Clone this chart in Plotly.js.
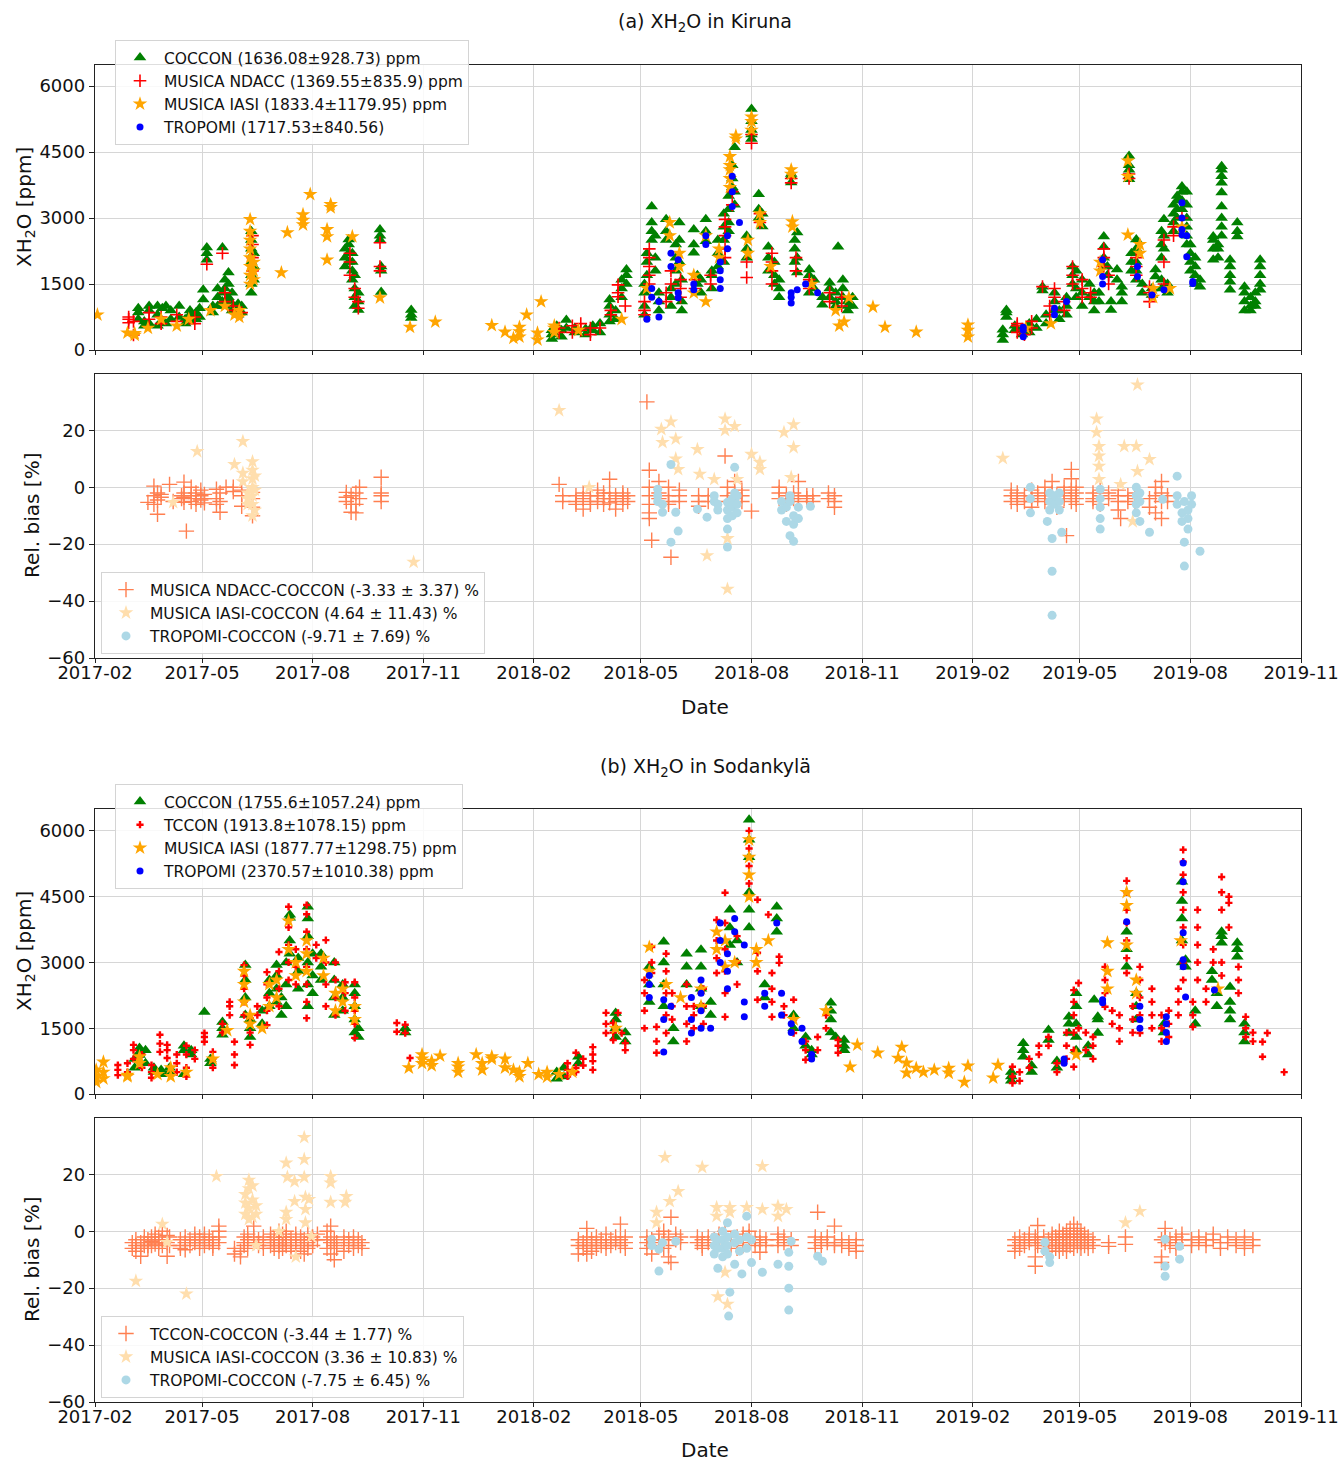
<!DOCTYPE html>
<html><head><meta charset="utf-8">
<script src="https://cdn.plot.ly/plotly-3.0.1.min.js"></script>
<style>body{margin:0;background:#fff}#chart{width:1341px;height:1461px}</style>
</head><body><div id="chart"></div>
<script>
// ---------- tick labels ----------
const xTickDates = ["2017-02-01","2017-05-01","2017-08-01","2017-11-01","2018-02-01","2018-05-01","2018-08-01","2018-11-01","2019-02-01","2019-05-01","2019-08-01","2019-11-01"];
const xTickLabels = ["2017-02","2017-05","2017-08","2017-11","2018-02","2018-05","2018-08","2018-11","2019-02","2019-05","2019-08","2019-11"];
const ppmTicks = [0,1500,3000,4500,6000];
const biasTicks = [-60,-40,-20,0,20];
const biasTickLabels = ["\u221260","\u221240","\u221220","0","20"];

// ---------- (a) Kiruna, XH2O [ppm]: rows = [date, values...] ----------
const kirCoccon = [
["2017-03-09",700,950,850],["2017-03-14",550,650],["2017-03-18",900,1000,600],["2017-03-25",550,800,1000],
["2017-03-29",650,950],["2017-04-01",600,1000],["2017-04-05",700,900],["2017-04-12",750,1000],["2017-04-17",600,700],
["2017-04-21",650,800,900],["2017-04-26",700,850],["2017-04-29",750,950],["2017-05-02",1150,1370],["2017-05-05",2050,2200,2330],
["2017-05-10",850,1000],["2017-05-14",1000,1200,1400],["2017-05-18",2330,1300,1100],["2017-05-20",1000,1400,1600],
["2017-05-23",1200,1500,1760,1100],["2017-05-26",900,1050,1300],["2017-05-31",800,950,1050],["2017-06-03",850,1000],
["2017-06-11",1300,1500,1700,2000,2300,2500,2700],["2017-06-13",1600,1900,2200],
["2017-08-28",1900,2100,2300],["2017-08-31",2000,2200,2400,2510],["2017-09-03",1600,1800,2000,2200],["2017-09-05",1000,1200,1400,1700],
["2017-09-08",910,1100,1300],["2017-09-26",2600,2740,2500],["2017-09-27",1320,1800,1900],["2017-10-22",730,800,910],
["2018-02-16",250,350,450],["2018-02-20",400,550],["2018-02-24",300,450],["2018-02-28",680,500],["2018-03-07",400,500],
["2018-03-16",350,480],["2018-03-22",450,550],["2018-03-28",400,600],["2018-04-05",800,1000,1150,650],["2018-04-10",700,900],
["2018-04-15",1200,1400,1600],["2018-04-19",1500,1830,1700],["2018-05-04",800,1000,1300,1500],["2018-05-06",1700,2000,2200],
["2018-05-10",3260,2500,2700,2900],["2018-05-13",1800,2100,2600],["2018-05-16",900,1100,1300],["2018-05-22",2970,2500,2700],
["2018-05-26",1000,1200,1400],["2018-05-30",1500,1800,2100,2400],["2018-06-02",2000,2500,2900],["2018-06-04",900,1100,1600],
["2018-06-14",2210,2400,2740],["2018-06-17",1500,1700],["2018-06-20",1300,1600],["2018-06-24",2470,2700,2970],
["2018-06-29",1400,1700,1800],["2018-07-04",1900,2200,2500],["2018-07-09",2000,2500,2800,3100],["2018-07-13",3200,3500,2900,2700],
["2018-07-16",3700,3900,4200],["2018-07-18",4610,3300,3600],["2018-07-28",2100,2300,2600],["2018-08-01",5480,5200,5000,4800,4900],
["2018-08-07",3200,3540,3000],["2018-08-10",2810,3100],["2018-08-15",1800,2100,2350],["2018-08-20",1500,1700,2000],
["2018-08-24",1200,1400,1600],["2018-09-03",3810,3950,4000],["2018-09-06",2000,2300,2500],["2018-09-08",1760,2100,2670],
["2018-09-18",1300,1500,1700,1830],["2018-09-22",1400,1600],["2018-09-29",1030,1200],["2018-10-05",1200,1400,1530],
["2018-10-10",1000,1100,1300],["2018-10-12",2350],["2018-10-16",1200,1400,1600],["2018-10-20",900,1000,1100],["2018-10-24",1000,1200],
["2019-02-26",230,350,460],["2019-03-01",750,850,910],["2019-03-08",450,550],["2019-03-14",350,500],["2019-03-20",400,600],
["2019-03-26",500,700],["2019-03-31",1440,1350],["2019-04-03",600,800],["2019-04-10",900,1100,1300],["2019-04-14",700,900],
["2019-04-20",800,1000,1200],["2019-04-25",1500,1700,1900],["2019-04-28",1200,1400,1800],["2019-05-03",1000,1300,1600],
["2019-05-09",1200,1500],["2019-05-13",900,1100,1300],["2019-05-17",1100,1300],["2019-05-21",1900,2100,2350,2580],
["2019-05-24",1700,1900],["2019-05-27",910,1100],["2019-06-01",1600,1830],["2019-06-05",1100,1300,1440],
["2019-06-11",3880,4100,4410,4200,3950],["2019-06-13",1800,2000,2200],["2019-06-17",1600,1800,2000,2300,2510],["2019-06-22",1300,1500],
["2019-06-30",1250,1400],["2019-07-03",1670,1830],["2019-07-08",1400,1600,2100,2400,2700],["2019-07-10",2970,2600,2300],
["2019-07-13",1300,1500],["2019-07-18",2700,2900,3100,3300],["2019-07-21",3000,3200,3400,3500],["2019-07-25",3200,3400,3600,3720],
["2019-07-29",2400,2600,2800,3000,3300,3600],["2019-08-01",1800,2000,2200,2400],["2019-08-05",1500,1700,1900,2100],["2019-08-09",1440,1600],
["2019-08-20",2050,2300,2500,2580],["2019-08-24",2100,2300,2400],["2019-08-27",3580,3800,3950,4100,4180,2600,2800,3000,3260],
["2019-09-03",1370,1550,1700,1900,2050],["2019-09-09",2580,2700,2900],["2019-09-15",900,1100,1300,1440],["2019-09-20",900,1000,1200],
["2019-09-24",1000,1100,1300],["2019-09-28",1370,1500,1700,1900,2050]
];
const kirNdacc = [
["2017-03-01",620,700,750],["2017-03-05",340,650],["2017-03-18",850,700],["2017-03-28",600,750],["2017-04-10",800,650],
["2017-04-25",600,750],["2017-05-05",1950],["2017-05-18",2200],["2017-05-20",1100,1300],["2017-05-27",900,1000],["2017-06-03",850],
["2017-06-12",1800,2100,2400,2600],["2017-09-01",1700,2000,2200],["2017-09-05",1200,1400],["2017-09-08",950,1100],["2017-09-26",2440,1800,1900],
["2018-02-22",400,500],["2018-03-05",400,550],["2018-03-12",450,600],["2018-03-20",350,500],["2018-03-28",500],["2018-04-06",800,900],
["2018-04-12",1210,1300,1480],["2018-04-18",1000],["2018-05-04",800,900,1100],["2018-05-08",1500,1700,1900,2100,2300],["2018-05-22",1100,1300],
["2018-05-26",1500,1800],["2018-06-03",1200,1400,1600],["2018-06-15",1400,1600],["2018-06-28",1500,1700],["2018-07-10",2100,2300,2600,2970,2800],
["2018-07-16",3300,3600],["2018-07-28",1650,2000],["2018-08-01",4700,4900],["2018-08-08",2900,3100],["2018-08-18",1500,1800,2000,2200],
["2018-09-03",3800,3900],["2018-09-07",1800,2100],["2018-09-18",1400,1600],["2018-10-05",1100,1300],["2018-10-15",1000,1200],
["2019-03-10",400,550,600],["2019-03-16",350,450],["2019-03-22",500,650],["2019-03-31",1440],["2019-04-06",800,1000],["2019-04-10",1200,1400],
["2019-04-18",900,1100],["2019-04-25",1500,1700,1900],["2019-05-03",1200,1400,1600],["2019-05-10",1200,1300],["2019-05-21",1900,2100,2300],
["2019-05-25",1500,1700],["2019-06-11",3900,4000],["2019-06-17",1700,1900,2100],["2019-06-28",1100,1300,1440],["2019-07-10",1500,2000,2500],
["2019-07-18",2600,2800],["2019-07-25",3000]
];
const kirIasi = [
["2017-02-03",800],["2017-02-28",390],["2017-03-06",340,380],["2017-03-17",500],["2017-03-28",700],["2017-04-10",550],["2017-04-20",700],
["2017-05-08",900],["2017-05-20",1000],["2017-05-28",800],["2017-06-01",750,900],["2017-06-10",1500,1700,1900,2100,2300,2500,2700,2970],
["2017-06-13",1600,1800,2000],["2017-07-06",1760],["2017-07-11",2670],["2017-07-24",2850,2950,3080],["2017-07-30",3540],
["2017-08-13",2580,2740,2050],["2017-08-16",3240,3310],["2017-09-03",2580],["2017-09-26",1190],["2017-10-21",520],["2017-11-11",640],
["2017-12-28",560],["2018-01-08",410],["2018-01-15",270],["2018-01-20",300,420,520],["2018-01-26",800],["2018-02-04",230,390],
["2018-02-07",1100],["2018-02-18",400,500,550],["2018-03-10",450],["2018-04-15",700],["2018-05-06",1400],["2018-05-25",2900,2600],
["2018-06-02",1900,2200],["2018-06-14",1300,1700],["2018-06-24",2600,1100],["2018-07-05",2300,2100],["2018-07-14",3900,4200,4400,4100,3700],
["2018-07-19",4800,4870],["2018-07-29",2200,2500],["2018-08-01",5000,5200,5300],["2018-08-08",2900,3100],["2018-08-17",1900],
["2018-09-03",4100,4000],["2018-09-04",2920,2800],["2018-09-20",1500],["2018-10-10",900],["2018-10-13",550],["2018-10-17",640],
["2018-10-21",1190],["2018-11-10",980],["2018-11-20",520],["2018-12-16",410],["2019-01-28",300,450,570],["2019-03-17",500],
["2019-04-07",600],["2019-05-18",1800,2000],["2019-06-10",2620,3950,4300],["2019-06-20",2200,2400],["2019-07-01",1200,1400],
["2019-07-15",1400],["2019-07-25",2800]
];
const kirTropomi = [
["2018-05-06",700],["2018-05-10",1200,1400],["2018-05-16",750,1100],["2018-05-26",2200,1900],["2018-06-01",1190,1300,2050],
["2018-06-14",1370,1500],["2018-06-24",2600,2400],["2018-07-06",1400,1600,1800,2000],["2018-07-12",2300,2600],["2018-07-16",3260,3600,3950],
["2018-07-22",2900],["2018-09-03",1070,1200,1300],["2018-09-08",1370],["2018-09-15",1500],["2018-09-25",1300],
["2019-03-15",300,450,520],["2019-04-10",800,950],["2019-04-20",1100],["2019-05-20",1500,1670,2050],["2019-06-18",1670,1900],
["2019-06-30",1250],["2019-07-10",1370],["2019-07-25",2620,2740,3000,3350],["2019-07-29",2120,2600],["2019-08-03",1560,1510]
];

// ---------- (a) Kiruna, relative bias [%] ----------
const kirBiasNdacc = [
["2017-03-17",-5.3],["2017-03-22",0.4,-3,-6],["2017-03-25",-2,-4.5,-9.5],["2017-03-28",-2.5,-3.5],["2017-04-04",1],["2017-04-07",-5],
["2017-04-14",-3,-4],["2017-04-16",1.8,-2,-3.5,-5.3],["2017-04-18",-15.4],["2017-04-22",0,-3,-5],["2017-04-26",-2,-4,-6],
["2017-04-30",-1,-3,-4.5],["2017-05-03",-2.5,-4,-5.5],["2017-05-13",-0.7,-4,-6],["2017-05-16",-2,-5,-8.8],["2017-05-21",0],
["2017-05-27",0,-1.5],["2017-06-03",-1,-3,-6.7],["2017-06-12",-1.8,-4,-7,-10],["2017-08-29",-1.8,-3.5,-5],["2017-09-02",-3,-6,-8.8],
["2017-09-06",-2,-6,-9],["2017-09-09",0,-4],["2017-09-27",3.5,-2,-3,-5],
["2018-02-22",1],["2018-02-25",-3,-5],["2018-03-08",-3,-5,-6],["2018-03-14",-2,-4,-7.7],["2018-03-20",-3,-5,-6],["2018-03-26",-1,-3,-5],
["2018-03-31",-2,-4,-6],["2018-04-05",2.8,-2,-4,-5.5],["2018-04-10",-3,-5,-7.7],["2018-04-16",-2,-4,-6,-3],["2018-04-20",-3,-5],
["2018-05-06",30],["2018-05-08",6,0,-3,-6,-9,-11],["2018-05-10",-18.6],["2018-05-16",2,-2,-4],["2018-05-24",0,-3,-5,-6],["2018-05-26",-24.6],
["2018-06-02",-1,-3,-5],["2018-06-18",-3,-5,-6.7],["2018-06-26",-3,-5],["2018-07-10",11],["2018-07-12",0,-3,-5],["2018-07-18",2,-2,-4],
["2018-07-24",-3,-5,-1],["2018-08-01",-8.4],["2018-08-24",0,-2,-4],["2018-08-30",-3,-5,-6],["2018-09-05",-2,-4],["2018-09-09",2,-3,-5],
["2018-09-16",-3,-4],["2018-09-21",-3,-5],["2018-10-04",-2,-4],["2018-10-09",-3,-5,-7],
["2019-03-05",-1,-3,-5],["2019-03-10",-2,-4,-6],["2019-03-16",-3,-5],["2019-03-22",-1,-3,-5,-7],["2019-03-27",-2,-4],["2019-04-02",0,-3,-5],
["2019-04-08",2,-2,-4,-6],["2019-04-12",-3,-5,-7],["2019-04-18",0,-2,-4],["2019-04-20",-17],["2019-04-24",6.3,3,-1,-3,-5],
["2019-04-28",0,-2,-4,-6],["2019-05-12",-2,-4,-5],["2019-05-18",-1,-3,-6],["2019-05-25",-2,-4],["2019-06-02",-1,-3,-5,-8],
["2019-06-04",-11],["2019-06-10",-3,-5],["2019-06-16",-2,-4,-6],["2019-06-28",-4,-7],["2019-07-03",0,-3,-9],["2019-07-08",2,-2,-5,-11],
["2019-07-13",-3,-5]
];
const kirBiasIasi = [
["2017-04-07",-5.3],["2017-04-27",12.6],["2017-05-28",8],["2017-06-04",16.1,5,2],["2017-06-08",-2,-4,-6],
["2017-06-12",9,6,3,0,-3,-6,-10],["2017-06-14",4,-1,-8],["2017-10-24",-26.3],["2018-02-22",27],["2018-03-19",0],
["2018-05-18",20.4],["2018-05-19",15.8],["2018-05-26",23],["2018-05-30",17,10],["2018-06-01",6.3],["2018-06-17",13.3],["2018-06-19",4.6],
["2018-06-25",-24],["2018-07-01",2.8],["2018-07-10",24,20],["2018-07-12",-18,-35.8],["2018-07-18",21.4],["2018-07-20",2.8],
["2018-08-01",11.6],["2018-08-08",8.8,6.3],["2018-08-28",19.3],["2018-09-03",3.5],["2018-09-05",22,14],
["2019-02-26",10.2],["2019-05-15",24,19.3],["2019-05-17",14.4,11,7.4,2.8],["2019-06-04",1],["2019-06-07",14.4],["2019-06-14",-12],
["2019-06-17",14.4],["2019-06-18",36,5.6],["2019-06-28",9.8]
];
const kirBiasTropomi = [
["2018-05-15",-0.7,-3,-5],["2018-05-19",-6,-8.8],["2018-05-26",8,-19.3],["2018-05-30",-8.8],["2018-06-01",-15.4],["2018-06-17",-7.7],
["2018-06-25",-10.5],["2018-07-01",-3,-5],["2018-07-04",-6,-8],["2018-07-12",-5.3,-8,-11,-14.7,-21],["2018-07-16",-4,-7,-10],
["2018-07-18",7,-2,-5],["2018-07-20",-3,-6,-9],["2018-08-26",-5,-8],["2018-08-30",-7,-12],["2018-09-02",-3,-5,-17],
["2018-09-05",-10,-13,-19],["2018-09-09",-7,-11],["2018-09-19",-6.7],
["2019-03-21",0,-4,-9],["2019-04-04",-12],["2019-04-06",-2,-5,-8],["2019-04-08",-18,-29.5,-45],["2019-04-10",-3,-6],
["2019-04-14",-2,-5,-8],["2019-04-16",-15.8],["2019-05-18",-0.7,-4,-7,-11,-14.7],["2019-06-17",0,-3,-6,-9],["2019-06-20",-2,-5,-12],
["2019-06-28",-15.8],["2019-07-09",-4.2],["2019-07-21",3.9,-3,-6],["2019-07-25",-9,-12],["2019-07-27",-19.3,-27.7,-5],
["2019-07-30",-8,-11,-14.7],["2019-08-02",-3,-6],["2019-08-09",-22.5]
];

// ---------- (b) Sodankylä, XH2O [ppm] ----------
const sodCoccon = [
["2017-03-06",600,800],["2017-03-10",890,1050,950],["2017-03-15",700,1000],["2017-03-22",500,600],["2017-03-28",450,550],
["2017-04-04",500,600],["2017-04-16",450,1100,1000],["2017-04-22",900,1000],["2017-05-03",1870],["2017-05-08",700,800],
["2017-05-18",1350,1500,1640],["2017-06-06",1800,2200,2600,2940],["2017-06-10",1300,1500,1700],["2017-06-20",1600,1900],
["2017-06-26",2000,2300,2600],["2017-07-02",2940,2700,2400,2100],["2017-07-06",1800,2200],["2017-07-10",2000,2500,3000],
["2017-07-13",4020,4090,3500,3200],["2017-07-20",2400,2800,3100],["2017-07-28",4270,4000,3600,3000,2500,2000],
["2017-08-01",2300,2700,3200],["2017-08-08",2600,2900,3200],["2017-08-19",1800,2200,2600,3000],["2017-08-26",1900,2200,2500],
["2017-09-05",1400,1700,2000,2300,2500],["2017-09-08",1300,1500],["2017-10-17",1400,1500],
["2018-02-20",350,500],["2018-02-26",400,600],["2018-03-10",700,850],["2018-04-10",1700,1850,1500,1300],["2018-04-18",1200,1400],
["2018-05-08",2100,2500,2900],["2018-05-20",3470,3000,2500,2000],["2018-05-28",1200,1500],["2018-06-08",2500,2900,3200],
["2018-06-20",3290,2900,2400,2000],["2018-06-28",1800,2100],["2018-07-14",3400,3800,4200],["2018-07-20",3000,3500],
["2018-07-30",6255,5800,5400,4600,4200,3800],["2018-08-12",2200,2500],["2018-08-22",4270,4000,3700],["2018-09-05",1500,1800],
["2018-09-15",1100,1300],["2018-09-20",900,1000],["2018-10-06",1400,1700,2080,1900],["2018-10-10",1300],["2018-10-17",1000,1100,1230],
["2019-03-05",300,400,500],["2019-03-15",850,1000,1160],["2019-03-22",500,650],["2019-04-05",1230,1460],["2019-04-12",600,750],
["2019-04-22",1390,1600,1760],["2019-04-28",1000,1300,1600,2000,2300],["2019-05-08",900,1100],["2019-05-13",2150],
["2019-05-16",1390,1700,1760],["2019-06-09",3700,3300,2900],["2019-06-17",1700,2000,2300],["2019-07-10",1400,1600],
["2019-07-25",4840,4400,4000,3500,3000],["2019-07-28",2900,3060],["2019-08-05",1600,1900],["2019-08-19",2600,2800],
["2019-08-23",2000,2300],["2019-08-27",3450,3600,3700],["2019-09-03",1700,1900,2100,2440],["2019-09-09",3130,3300,3450],
["2019-09-15",1200,1400,1600]
];
const sodTccon = [
["2017-02-20",430,550,660],["2017-02-28",500,700],["2017-03-05",800,1000,1120],["2017-03-12",600,900],["2017-03-20",370,500,660],
["2017-03-27",960,1150,1350],["2017-04-02",820,1000,1120],["2017-04-10",500,700,900],["2017-04-18",400,600,900,1100],["2017-04-25",800,1000],
["2017-05-03",1190,1300,1390],["2017-05-10",600,800,960],["2017-05-18",1400,1600],["2017-05-24",1800,2000,2100],["2017-05-28",660,900,1190],
["2017-06-05",1800,2100,2400,2700,2940],["2017-06-10",1120,1400,1730],["2017-06-16",1800,2000],["2017-06-24",1570,1900,2200,2500,2780],
["2017-07-04",2000,2400,2800,3240],["2017-07-12",4270,3800,3400,3000,2600],["2017-07-18",2500,2900,3300],
["2017-07-27",4310,4100,3700,3300,2900,2500,2100,1730],["2017-08-04",3100,3400],["2017-08-12",3510,3000,2500,2000],
["2017-08-20",1800,2200,2600,3000],["2017-08-28",1900,2300,2550],["2017-09-05",1280,1600,1900,2200,2550],["2017-10-10",1420,1620],
["2017-10-17",1390,1580],["2017-10-21",820],
["2018-03-01",400,550,700],["2018-03-08",500,600,940],["2018-03-14",650,800],["2018-03-22",550,750,1070,900],["2018-04-02",1390,1600,1850],
["2018-04-08",1230,1400,1620],["2018-04-12",1850],["2018-04-15",1390],["2018-04-18",1000,1160],["2018-05-04",1500,1900,2300,2600],
["2018-05-10",2760,3000,3350],["2018-05-14",940,1200,1530],["2018-05-22",1390,1800,2300,2800,3200],["2018-05-27",1700,2000,2300],
["2018-06-08",1200,1600,2000,2500],["2018-06-14",1500,1800,2000],["2018-06-22",1600,2000,2400],["2018-07-03",2760,3100,3500,3970],
["2018-07-10",1760,2300,2800,3300,3900,4590],["2018-07-20",2500,3000,3600],["2018-07-30",4800,5200,5600,6000],
["2018-08-06",4430,3220,2800,2150],["2018-08-15",4090],["2018-08-18",1760,2100,2400,2760],["2018-08-24",2990,3130],["2018-08-28",1800,2000],
["2018-09-05",1390,1700,2150],["2018-09-15",780,1000,1200],["2018-09-25",1000,1300],["2018-10-02",1500,1800],["2018-10-12",940,1100,1230],
["2019-03-06",250,400,620],["2019-03-12",300,500],["2019-03-20",600,800],["2019-03-28",900,1100],["2019-04-05",1100,1300],
["2019-04-12",500,700],["2019-04-20",800,1100,1400],["2019-04-26",620,1000,1400,1800,2100,2370],["2019-04-30",2530,1500],
["2019-05-06",1000,1400],["2019-05-12",800,1100,1300],["2019-05-22",1990,2300,2600,2900],["2019-05-28",1600,1900],
["2019-06-03",1200,1500,1800],["2019-06-09",4860,4600,4200,3900,3500,3100,2760],["2019-06-14",1400,1700,2000],
["2019-06-20",1390,1800,2200,2600,2900],["2019-06-30",1500,1800,2100,2400],["2019-07-08",1200,1500,1800],["2019-07-14",1300,1600,1900],
["2019-07-22",1800,2100,2400],["2019-07-26",5570,5300,5000,4600,4200,3800,3400,3000,2600],["2019-08-03",1530,1800,2100],
["2019-08-07",4200,3800,3400,3000,2600],["2019-08-14",2100,2400],["2019-08-20",3000,3300],["2019-08-27",4950,4600,4200,3000,2700],
["2019-09-02",4500,4360,3800],["2019-09-10",2900,2600,2300],["2019-09-16",1300,1500,1760],["2019-09-22",1200,1400],
["2019-09-30",1190,850],["2019-10-04",1390],["2019-10-18",500]
];
const sodIasi = [
["2017-02-02",270,400,550],["2017-02-08",730,500,350],["2017-02-28",400,430],["2017-03-10",700,850],["2017-03-25",450],
["2017-04-05",400,600],["2017-04-18",500],["2017-05-10",800],["2017-05-22",1450],["2017-06-05",2100,2500,2800],["2017-06-10",1600,1800],
["2017-06-20",1500],["2017-06-26",2000,2500],["2017-07-02",2200,2600],["2017-07-12",3950,3300],["2017-07-18",2700,3000],
["2017-07-27",3200,3500,2800],["2017-08-10",3100,2700],["2017-08-20",1900,2300],["2017-08-26",2400,2100],["2017-09-05",1700,2000],
["2017-10-20",600],["2017-10-31",900,700,800],["2017-11-08",650,750],["2017-11-15",870],["2017-11-30",500,620,700],["2017-12-15",900],
["2017-12-20",550,700],["2017-12-28",800,850],["2018-01-08",800,600],["2018-01-15",550],["2018-01-20",400,500],["2018-01-27",700],
["2018-02-05",450],["2018-02-12",390,500],["2018-02-22",450],["2018-03-05",500],["2018-04-10",1500],["2018-05-08",3350,2800],
["2018-05-22",2500],["2018-06-03",2200],["2018-06-20",2400,2000],["2018-07-03",3700,3300],["2018-07-10",2900,3500],["2018-07-18",3000],
["2018-07-30",5800,5400,5000,4500],["2018-08-05",3300,3000],["2018-08-15",3500],["2018-09-05",1700],["2018-10-02",1900],
["2018-10-22",620],["2018-10-28",1120],["2018-11-14",940],["2018-12-01",820],["2018-12-04",1070],["2018-12-08",480,710],
["2018-12-16",590],["2018-12-22",500],["2018-12-31",550],["2019-01-12",480,590],["2019-01-25",270],["2019-01-28",640],
["2019-02-18",370],["2019-02-22",660],["2019-04-28",900],["2019-05-24",3450,2800,2400],["2019-06-09",4600,4300,3400],
["2019-06-17",2600,2300],["2019-07-24",3500],["2019-08-24",2400]
];
const sodTropomi = [
["2018-05-08",2200,2500,2700],["2018-05-20",960,2150,1700],["2018-05-26",2000],["2018-06-12",1390,1700,2200],
["2018-06-20",1500,1900,2300,2600],["2018-06-28",1500],["2018-07-06",3000,3500,3900],["2018-07-12",2400,2800,3200],
["2018-07-18",4000,3700],["2018-07-26",1760,2100,3400],["2018-08-12",2000,2300],["2018-08-22",3900],["2018-08-26",1800,2300],
["2018-09-03",1400,1600],["2018-09-12",1200,1500],["2018-09-20",800,900],
["2019-04-18",700,800],["2019-05-20",2080,2150],["2019-06-09",3930],["2019-06-20",1500,1700,2000],["2019-07-12",1200,1400,1600,1760],
["2019-07-26",5270,4840,3680,3060,2900],["2019-07-28",2210],["2019-08-21",2370]
];

// ---------- (b) Sodankylä, relative bias [%] ----------
const sodBiasTccon = [
["2017-03-04",-4,-6],["2017-03-07",-3,-5,-7],["2017-03-11",-4,-6,-8.8],["2017-03-14",-2,-4,-5],["2017-03-17",-3,-5,-6],
["2017-03-20",-2,-3.5,-5],["2017-03-23",-1,-3,-4.5],["2017-03-26",-2,-4,-6],["2017-03-29",0,-3,-5],["2017-04-02",-1.5,-4,-8.8],
["2017-04-04",-2,-5],["2017-04-13",-3,-5,-6],["2017-04-17",-2,-4,-6.5],["2017-04-21",-3,-5],["2017-04-25",-1,-3,-4],
["2017-04-29",-2,-4,-6],["2017-05-03",-1,-3,-5],["2017-05-07",-2,-4],["2017-05-10",-3,-5,-6],["2017-05-15",1.8,0,-2,-4],
["2017-05-28",-6,-8],["2017-06-02",-7,-9],["2017-06-05",-2,-4,-5],["2017-06-08",-1,-3,-6],["2017-06-13",1.8,-2,-4],
["2017-06-17",-3,-5],["2017-06-21",-2,-4,-6],["2017-06-27",-1,-3,-5],["2017-06-30",-2,-4,-6],["2017-07-04",0,-3,-5,-7],
["2017-07-07",-1,-2,-4,-6],["2017-07-10",0,-2,-4,-5],["2017-07-14",-3,-5,-7],["2017-07-18",-1,-3,-6],["2017-07-22",-2,-4,-7],
["2017-07-25",-3,-5,-8],["2017-07-28",-1,-4,-6],["2017-08-01",-2,-3,-5],["2017-08-05",-1,-3],["2017-08-13",0,-3,-6],
["2017-08-16",1.8,-2,-4,-8],["2017-08-19",-3,-5,-10],["2017-08-21",-4,-6],["2017-08-27",-2,-4,-7],["2017-08-31",-3,-5],
["2017-09-04",-2,-4,-6],["2017-09-08",-3,-5],["2017-09-11",-4,-6],
["2018-03-10",-3,-5,-8],["2018-03-14",-4,-6],["2018-03-17",-2,1,-5,-8],["2018-03-21",-3,-5,-7],["2018-03-25",-2,-4,-6],
["2018-03-29",-3,-5],["2018-04-02",-1,-4,-6],["2018-04-06",-3,-5],["2018-04-10",-2,-4],["2018-04-14",2.5,-3,-5],
["2018-04-18",-2,-4,-6],["2018-05-06",-2,-4,-6],["2018-05-10",-3,-5,-8],["2018-05-16",-1,-4],["2018-05-20",0,-3,-6],
["2018-05-24",-2,-5,-9],["2018-05-26",4.9,-11],["2018-05-30",-1,-3],["2018-06-03",-2,-4],["2018-06-17",-2,-4],
["2018-06-21",-3,-5,-6],["2018-06-26",-2,-4],["2018-07-01",-3,-5],["2018-07-05",-1,-3],["2018-07-10",0,-2,-4],
["2018-07-15",-3,-5],["2018-07-20",-2,-4,-6],["2018-07-25",-1,-3,-5],["2018-07-30",0,-2,-4],["2018-08-04",-3,-5],
["2018-08-08",-2,-4,-7.4],["2018-08-13",-3,-5],["2018-08-23",-1,-3,-5],["2018-08-28",-2,-4],["2018-09-03",-3,-5],
["2018-09-23",-2,-4,-6],["2018-09-25",6.7],["2018-09-28",-3,-5],["2018-10-03",-2,-4],["2018-10-09",1.8,-4,-5],
["2018-10-15",-3,-5],["2018-10-21",-4,-6],["2018-10-27",-3,-5,-7],
["2019-03-08",-3,-5,-7],["2019-03-12",-2,-4,-6],["2019-03-16",-3,-5],["2019-03-20",-1,-3,-4],["2019-03-25",-2,-4,-12.3,-9],
["2019-03-27",2,-3,-5],["2019-04-01",-2,-4,-6],["2019-04-05",-3,-5,-7],["2019-04-08",-1,-3,-5],["2019-04-11",-2,-4,-6],
["2019-04-14",0,-3,-5,-7],["2019-04-17",-1,-2,-4,-6],["2019-04-20",0,-2,-4,-5,-7],["2019-04-23",1,-1,-3,-5],
["2019-04-26",2.5,0,-2,-4,-6],["2019-04-29",1,-1,-3,-5],["2019-05-02",0,-2,-4,-6],["2019-05-05",-1,-3,-5],["2019-05-08",-2,-4,-6],
["2019-05-12",-3,-5],["2019-05-25",-5.3,-4],["2019-06-08",-4.6,-2],["2019-07-08",-9,-11,-3],["2019-07-11",1,-2,-4],
["2019-07-15",-3,-5],["2019-07-20",-2,-4,-6],["2019-07-25",-1,-3],["2019-08-02",-3,-5],["2019-08-08",-2,-4],["2019-08-14",-3,-5],
["2019-08-20",-1,-3],["2019-08-26",-4,-6],["2019-09-01",-2,-4],["2019-09-08",-3,-5],["2019-09-15",-2,-4,-6],["2019-09-22",-3,-5]
];
const sodBiasIasi = [
["2017-03-07",-17.5],["2017-03-29",2.5],["2017-04-02",-3.9],["2017-04-18",-22],["2017-05-13",19.3],["2017-06-06",13,10,6],
["2017-06-09",18,15,8,4.2],["2017-06-12",16,11,5],["2017-06-15",9,6,-5],["2017-07-04",0],["2017-07-10",24,6.7,4.2],["2017-07-11",19],
["2017-07-17",17.5,10.5],["2017-07-18",-9],["2017-07-25",33,25.3,19],["2017-07-26",12,7.7,3],["2017-07-29",11.2],["2017-07-31",-1.8],
["2017-08-16",19.3,17,10.2],["2017-08-28",10.2],["2017-08-29",12.3],
["2018-05-14",6.7,3],["2018-05-21",26],["2018-05-25",10.5],["2018-06-01",14],["2018-06-21",22.5],["2018-07-03",8.4,5.3],
["2018-07-04",-23],["2018-07-10",-14.4],["2018-07-12",-25.6],["2018-07-14",8.4,6.7],["2018-07-28",8.4],["2018-08-10",22.8,7.7],
["2018-08-23",8.8,5.3],["2018-08-30",7.7],["2019-06-08",3],["2019-06-20",7]
];
const sodBiasTropomi = [
["2018-05-10",-2.8,-5],["2018-05-16",-14,-6.3],["2018-05-19",-4],["2018-05-30",-3.5],["2018-07-01",-2,-5,-8],
["2018-07-04",-13,-6,-3],["2018-07-08",0,-3,-6,-9],["2018-07-12",3,-2,-5,-8],["2018-07-13",-29.8],["2018-07-14",-21.4],
["2018-07-18",-11.6,-4,-1],["2018-07-22",-3,-7],["2018-07-24",-15],["2018-07-28",5.3,-2,-6],["2018-08-01",-11,-3],
["2018-08-10",-14.4],["2018-08-23",-11.6],["2018-09-01",-7.4,-12.3,-20,-27.7],["2018-09-03",-3.5],["2018-09-25",-8.8],
["2018-09-29",-10.5],["2019-04-02",-3.9,-7],["2019-04-06",-11,-9],["2019-07-11",-2.8,-12.3,-15.8],["2019-07-23",-5.3,-9.8]
];

// ---------- build ----------
function expand(rows){const x=[],y=[];rows.forEach(r=>{for(let i=1;i<r.length;i++){x.push(r[0]);y.push(r[i]);}});return {x,y};}
function tr(rows,name,marker,xa,ya,lg){const d=expand(rows);return {type:'scatter',mode:'markers',x:d.x,y:d.y,name:name,marker:marker,xaxis:xa,yaxis:ya,legend:lg,hoverinfo:'skip'};}

const mTri={symbol:'triangle-up',size:11,color:'green'};
const mRedPlus={symbol:'cross-thin',size:9,color:'red',line:{color:'red',width:1.6}};
const mStar={symbol:'star',size:11,color:'orange'};
const mBlue={symbol:'circle',size:7,color:'blue'};
const mTccon={symbol:'cross',size:6,color:'red'};
const mCoral={symbol:'cross-thin',size:11,color:'coral',line:{color:'coral',width:1.4}};
const mPale={symbol:'star',size:11,color:'navajowhite'};
const mLb={symbol:'circle',size:9,color:'lightblue'};

const traces=[
 tr(kirCoccon,'COCCON (1636.08±928.73) ppm',mTri,'x','y','legend'),
 tr(kirNdacc,'MUSICA NDACC (1369.55±835.9) ppm',mRedPlus,'x','y','legend'),
 tr(kirIasi,'MUSICA IASI (1833.4±1179.95) ppm',mStar,'x','y','legend'),
 tr(kirTropomi,'TROPOMI (1717.53±840.56)',mBlue,'x','y','legend'),
 tr(kirBiasNdacc,'MUSICA NDACC-COCCON (-3.33 ± 3.37) %',mCoral,'x2','y2','legend2'),
 tr(kirBiasIasi,'MUSICA IASI-COCCON (4.64 ± 11.43) %',mPale,'x2','y2','legend2'),
 tr(kirBiasTropomi,'TROPOMI-COCCON (-9.71 ± 7.69) %',mLb,'x2','y2','legend2'),
 tr(sodCoccon,'COCCON (1755.6±1057.24) ppm',mTri,'x3','y3','legend3'),
 tr(sodTccon,'TCCON (1913.8±1078.15) ppm',mTccon,'x3','y3','legend3'),
 tr(sodIasi,'MUSICA IASI (1877.77±1298.75) ppm',mStar,'x3','y3','legend3'),
 tr(sodTropomi,'TROPOMI (2370.57±1010.38) ppm',mBlue,'x3','y3','legend3'),
 tr(sodBiasTccon,'TCCON-COCCON (-3.44 ± 1.77) %',mCoral,'x4','y4','legend4'),
 tr(sodBiasIasi,'MUSICA IASI-COCCON (3.36 ± 10.83) %',mPale,'x4','y4','legend4'),
 tr(sodBiasTropomi,'TROPOMI-COCCON (-7.75 ± 6.45) %',mLb,'x4','y4','legend4')
];

const W=1341,H=1461;
const px=v=>v/W, py=v=>1-v/H;
const fontFam='DejaVu Sans, sans-serif';
const xdom=[px(95),px(1301)];
function xa(anchor,labels){return {domain:xdom,anchor:anchor,type:'date',range:['2017-02-01','2019-11-01'],tickmode:'array',tickvals:xTickDates,ticktext:xTickLabels,showticklabels:labels,ticks:'outside',ticklen:4,ticklabelstandoff:-6,tickcolor:'#222',showline:true,mirror:true,linecolor:'#222',linewidth:1.2,showgrid:true,gridcolor:'#d6d6d6',gridwidth:1,zeroline:false,tickfont:{size:18,color:'#111'}};}
function ya(anchor,dom,range,vals,text){return {domain:dom,anchor:anchor,range:range,tickmode:'array',tickvals:vals,ticktext:text,ticks:'outside',ticklen:5,tickcolor:'#222',showline:true,mirror:true,linecolor:'#222',linewidth:1.2,showgrid:true,gridcolor:'#d6d6d6',gridwidth:1,zeroline:false,tickfont:{size:18,color:'#111'}};}
function lg(x,y){return {x:x,y:y,xanchor:'left',yanchor:'top',bgcolor:'rgba(255,255,255,0.85)',bordercolor:'#d4d4d4',borderwidth:1,font:{size:15.5,family:fontFam,color:'#111'},tracegroupgap:0,itemwidth:38,itemsizing:'trace'};}
function ann(text,x,y,size,angle){return {text:text,x:x,y:y,xref:'paper',yref:'paper',showarrow:false,xanchor:'center',yanchor:'middle',textangle:angle||0,font:{size:size,family:fontFam,color:'#111'}};}

const layout={
 width:W,height:H,margin:{l:0,r:0,t:0,b:0},paper_bgcolor:'#fff',plot_bgcolor:'#fff',
 font:{family:fontFam,color:'#111'},showlegend:true,
 xaxis:xa('y',false),xaxis2:xa('y2',true),xaxis3:xa('y3',false),xaxis4:xa('y4',true),
 yaxis:ya('x',[py(350),py(65)],[0,6480],ppmTicks,ppmTicks.map(String)),
 yaxis2:ya('x2',[py(658),py(374)],[-60,39.8],biasTicks,biasTickLabels),
 yaxis3:ya('x3',[py(1094),py(809)],[0,6500],ppmTicks,ppmTicks.map(String)),
 yaxis4:ya('x4',[py(1402),py(1118)],[-60,39.8],biasTicks,biasTickLabels),
 legend:lg(px(115),py(40)),legend2:lg(px(101),py(572)),legend3:lg(px(115),py(784)),legend4:lg(px(101),py(1316)),
 annotations:[
  ann('(a) XH<sub>2</sub>O in Kiruna',px(705),py(22),19),
  ann('(b) XH<sub>2</sub>O in Sodankylä',px(705),py(767),19),
  ann('XH<sub>2</sub>O [ppm]',px(25),py(207),20,-90),
  ann('Rel. bias [%]',px(32),py(516),20,-90),
  ann('XH<sub>2</sub>O [ppm]',px(25),py(951),20,-90),
  ann('Rel. bias [%]',px(32),py(1260),20,-90),
  ann('Date',px(705),py(707),20),
  ann('Date',px(705),py(1450),20)
 ]
};
Plotly.newPlot('chart',traces,layout,{staticPlot:true,displayModeBar:false});
</script></body></html>
